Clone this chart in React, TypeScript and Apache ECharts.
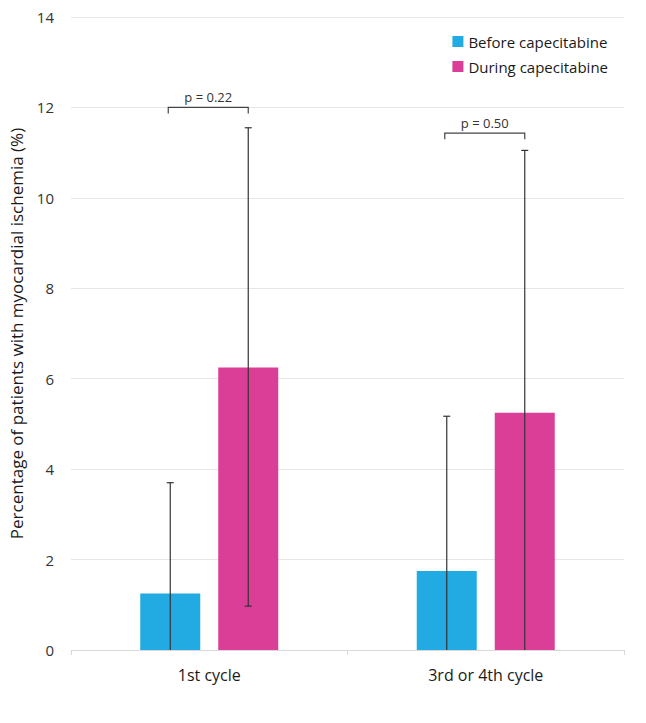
import React, { useEffect, useRef } from "react";
import * as echarts from "echarts";

const categories = ["1st cycle", "3rd or 4th cycle"];
const beforeValues = [1.25, 1.75];
const duringValues = [6.25, 5.25];
const beforeErrLow = [0, 0];
const beforeErrHigh = [3.7, 5.17];
const duringErrLow = [0.97, 0];
const duringErrHigh = [11.55, 11.05];
const pLabels = ["p = 0.22", "p = 0.50"];
const bracketLevel = [12.0, 11.43];
const yTicks = { min: 0, max: 14, interval: 2 };

const BLUE = "#22ABE2";
const PINK = "#DB3E96";
const FONT = "'Open Sans', 'Noto Sans', sans-serif";
const BAR_W = 60;
const HALF_OFFSET = 39;

export default function App() {
  const ref = useRef<HTMLDivElement>(null);
  useEffect(() => {
    if (!ref.current) return;
    const chart = echarts.init(ref.current, undefined, { renderer: "svg" });

    const errData: any[] = [];
    categories.forEach((_, i) => {
      errData.push([i, beforeErrLow[i], beforeErrHigh[i], -1]);
      errData.push([i, duringErrLow[i], duringErrHigh[i], 1]);
    });
    const bracketData = categories.map((_, i) => [i, bracketLevel[i], pLabels[i]]);

    chart.setOption({
      animation: false,
      textStyle: { fontFamily: FONT },
      grid: { left: 70, right: 22, top: 17, bottom: 73 },
      legend: {
        orient: "vertical",
        right: 33,
        top: 29,
        itemWidth: 11,
        itemHeight: 11,
        itemGap: 10,
        icon: "rect",
        textStyle: { fontSize: 15, color: "#1a1a1a", fontFamily: FONT },
        data: ["Before capecitabine", "During capecitabine"],
      },
      xAxis: {
        type: "category",
        data: categories,
        axisLine: { lineStyle: { color: "#d9d9d9" } },
        axisTick: { show: true, length: 5, lineStyle: { color: "#d9d9d9" } },
        axisLabel: { fontSize: 16, color: "#1a1a1a", margin: 17, fontFamily: FONT },
      },
      yAxis: {
        type: "value",
        min: yTicks.min,
        max: yTicks.max,
        interval: yTicks.interval,
        name: "Percentage of patients with myocardial ischemia (%)",
        nameLocation: "middle",
        nameGap: 46,
        nameTextStyle: { fontSize: 17, color: "#1a1a1a", fontFamily: FONT },
        axisLine: { show: false },
        axisTick: { show: false },
        axisLabel: { fontSize: 15, color: "#333", margin: 17, fontFamily: FONT },
        splitLine: { lineStyle: { color: "#e6e6e6" } },
      },
      series: [
        {
          name: "Before capecitabine",
          type: "bar",
          data: beforeValues,
          barWidth: BAR_W,
          barGap: "30%",
          itemStyle: { color: BLUE },
        },
        {
          name: "During capecitabine",
          type: "bar",
          data: duringValues,
          barWidth: BAR_W,
          barGap: "30%",
          itemStyle: { color: PINK },
        },
        {
          type: "custom",
          z: 10,
          clip: false,
          data: errData,
          renderItem: (params: any, api: any) => {
            const idx = api.value(0);
            const sign = api.value(3);
            const lo = api.coord([idx, api.value(1)]);
            const hi = api.coord([idx, api.value(2)]);
            const x = lo[0] + sign * HALF_OFFSET;
            const children: any[] = [
              { type: "line", shape: { x1: x, y1: lo[1], x2: x, y2: hi[1] }, style: { stroke: "#333", lineWidth: 1.2 } },
              { type: "line", shape: { x1: x - 3.5, y1: hi[1], x2: x + 3.5, y2: hi[1] }, style: { stroke: "#333", lineWidth: 1.2 } },
            ];
            if (api.value(1) > 0) {
              children.push({ type: "line", shape: { x1: x - 3.5, y1: lo[1], x2: x + 3.5, y2: lo[1] }, style: { stroke: "#333", lineWidth: 1.2 } });
            }
            return { type: "group", children };
          },
        },
        {
          type: "custom",
          z: 10,
          clip: false,
          data: bracketData,
          renderItem: (params: any, api: any) => {
            const idx = api.value(0);
            const p = api.coord([idx, api.value(1)]);
            const x1 = p[0] - HALF_OFFSET - 2;
            const x2 = p[0] + HALF_OFFSET;
            const y = p[1];
            return {
              type: "group",
              children: [
                {
                  type: "polyline",
                  shape: { points: [[x1, y + 6], [x1, y], [x2, y], [x2, y + 6]] },
                  style: { stroke: "#444", lineWidth: 1.2, fill: "none" },
                },
                {
                  type: "text",
                  style: {
                    x: p[0] - 1,
                    y: y - 4,
                    text: pLabels[idx],
                    textAlign: "center",
                    textVerticalAlign: "bottom",
                    fontSize: 13,
                    fill: "#333",
                    fontFamily: FONT,
                  },
                },
              ],
            };
          },
        },
      ],
    });
    return () => chart.dispose();
  }, []);
  return <div ref={ref} style={{ width: 646, height: 723, margin: -8 }} />;
}
